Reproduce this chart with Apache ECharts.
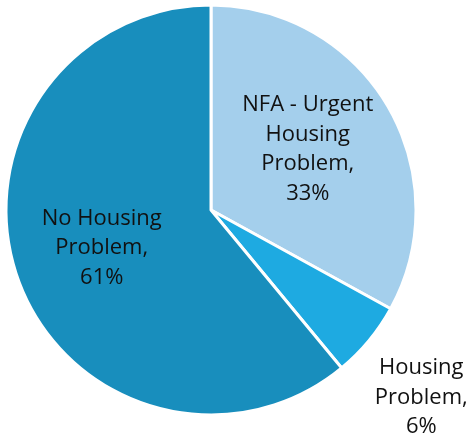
<!DOCTYPE html>
<html>
<head>
<meta charset="utf-8">
<script src="https://cdn.jsdelivr.net/npm/echarts@6/dist/echarts.min.js"></script>
<style>
	html, body { margin: 0; padding: 0; background: #fff; }
	#main { width: 469px; height: 434px; }
</style>
</head>
<body>
<div id="main"></div>
<script type="text/javascript">
	// slices clockwise from 12 o'clock
	var categories = ['NFA - Urgent\nHousing\nProblem,', 'Housing\nProblem,', 'No Housing\nProblem,'];
	var shares = [33, 6, 61];
	var colours = ['#A4CFEC', '#1EAAE1', '#188EBD'];
	// small nudges for the labels, (dx, dy) in px
	var labelNudge = [[6, -7], [129, 120], [-10, 2]];

	var myChart = echarts.init(document.getElementById('main'));

	var pieData = [];
	for (var i = 0; i < shares.length; i++) {
		pieData.push({
			name : categories[i],
			value : shares[i],
			itemStyle : { color : colours[i] }
		});
	}

	var option = {
		animation : false,
		series : [ {
			type : 'pie',
			center : [211, 210],
			radius : [0, 205],
			startAngle : 90,
			clockwise : true,
			avoidLabelOverlap : false,
			itemStyle : {
				borderColor : '#fff',
				borderWidth : 3
			},
			label : {
				show : true,
				position : 'inside',
				color : '#111',
				fontFamily : 'Open Sans',
				fontSize : 22,
				lineHeight : 29.5,
				align : 'center',
				formatter : function(p) {
					return p.name + '\n' + p.value + '%';
				}
			},
			labelLine : { show : false },
			labelLayout : function(params) {
				var n = labelNudge[params.dataIndex];
				return { dx : n[0], dy : n[1] };
			},
			data : pieData
		} ]
	};
	myChart.setOption(option);
</script>
</body>
</html>
